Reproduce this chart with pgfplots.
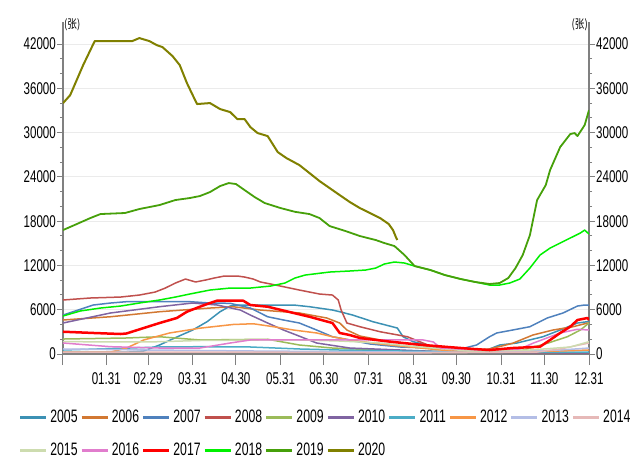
\documentclass[border=0pt]{standalone}
\usepackage{fontspec}
\setmainfont{Liberation Sans}[FakeStretch=0.68]
\newfontfamily\cjk{Noto Sans CJK SC}[FakeStretch=0.8]
\usepackage{pgfplots}
\pgfplotsset{compat=1.18}

\definecolor{axgray}{RGB}{128,128,128}
\definecolor{gridgray}{RGB}{235,235,235}
\definecolor{c2005}{RGB}{60,145,180}
\definecolor{c2006}{RGB}{210,120,50}
\definecolor{c2007}{RGB}{79,129,189}
\definecolor{c2008}{RGB}{192,80,77}
\definecolor{c2009}{RGB}{155,187,89}
\definecolor{c2010}{RGB}{128,100,162}
\definecolor{c2011}{RGB}{75,172,198}
\definecolor{c2012}{RGB}{247,150,70}
\definecolor{c2013}{RGB}{180,190,230}
\definecolor{c2014}{RGB}{230,185,184}
\definecolor{c2015}{RGB}{205,220,175}
\definecolor{c2016}{RGB}{225,125,205}
\definecolor{c2017}{RGB}{255,0,0}
\definecolor{c2018}{RGB}{0,240,0}
\definecolor{c2019}{RGB}{70,160,10}
\definecolor{c2020}{RGB}{128,128,0}

\pgfplotsset{
  frame/.style={
    scale only axis, width=526pt, height=332pt,
    xmin=1, xmax=366, ymin=0, ymax=45000,
    tick align=outside,
    tick style={draw=axgray, line width=1pt},
    axis line style={draw=axgray, line width=1.5pt},
    tick label style={font=\fontsize{17}{17}\selectfont, text=black, inner sep=1pt},
    scaled y ticks=false,
    /pgf/number format/1000 sep={},
    /pgf/number format/assume math mode=true,
  },
  yframe/.style={
    frame, axis x line=none,
    ytick={0,6000,...,42000}, minor y tick num=2,
    major tick length=6pt, minor tick length=3pt,
  }
}

\begin{document}
\begin{tikzpicture}
\path[use as bounding box] (-63pt,-105pt) rectangle (570pt,354pt);

% left scale with grid
\begin{axis}[yframe, axis y line*=left, ymajorgrids,
  grid style={draw=gridgray, line width=1pt}]
\end{axis}

% right scale
\begin{axis}[yframe, axis y line*=right]
\end{axis}

% data and date axis
\begin{axis}[frame, name=main,
  axis y line=none, axis x line*=bottom,
  xtick={1,31,60,91,121,152,182,213,244,274,305,335,366},
  xticklabels={,01.31,02.29,03.31,04.30,05.31,06.30,07.31,08.31,09.30,10.31,11.30,12.31},
  minor x tick num=2,
  major tick length=11pt, minor tick length=5pt,
  xticklabel style={yshift=-6pt},
  every axis plot/.append style={line width=1.5pt, line join=round, mark=none},
  legend columns=10,
  legend style={at={(-0.09,-0.16)}, anchor=north west, draw=none, fill=none,
    font=\fontsize{18}{18}\selectfont,
    nodes={inner sep=1pt},
    row sep=17pt,
    /tikz/every odd column/.append style={column sep=2pt},
    /tikz/every even column/.append style={column sep=1.8pt}},
  legend image code/.code={\draw[#1, line width=2.5pt] (0pt,0pt) -- (26pt,0pt);},
]
\addplot[c2005] coordinates {(1,270)(47,270)(57,400)(68,1220)(80,2300)(91,3250)(101,4380)(110,5730)(117,6500)(121,6640)(138,6640)(161,6640)(172,6410)(188,5960)(193,5730)(202,5280)(216,4380)(233,3520)(237,2340)(244,1670)(256,1080)(277,540)(290,270)(297,680)(304,1220)(316,1490)(334,2340)(346,3250)(358,4200)(365,4380)(366,4380)};
\addlegendentry{2005}
\addplot[c2006] coordinates {(1,4610)(34,5050)(68,5730)(103,6230)(119,6410)(138,5960)(165,5560)(184,4880)(193,4200)(198,3250)(207,2440)(221,1900)(242,1360)(263,810)(283,540)(297,680)(313,1450)(327,2570)(341,3250)(355,3700)(365,4200)(366,4200)};
\addlegendentry{2006}
\addplot[c2007] coordinates {(1,5280)(22,6640)(34,6910)(45,7090)(68,7090)(89,7090)(103,6910)(117,6870)(131,6230)(143,5050)(154,4610)(165,4200)(177,3250)(188,2340)(200,1900)(214,1360)(235,950)(256,810)(277,680)(288,1220)(297,2340)(302,2850)(313,3250)(325,3700)(337,4880)(348,5560)(358,6500)(363,6640)(366,6640)};
\addlegendentry{2007}
\addplot[c2008] coordinates {(1,7320)(20,7590)(41,7720)(54,7990)(65,8400)(72,8940)(79,9620)(86,10160)(93,9760)(100,10030)(106,10300)(113,10570)(122,10570)(127,10430)(133,10160)(138,9760)(145,9490)(155,9080)(165,8670)(172,8400)(179,8130)(188,7990)(192,7320)(194,5960)(198,4200)(207,3700)(221,3020)(240,2340)(249,1630)(256,1080)(270,540)(290,270)(366,140)};
\addlegendentry{2008}
\addplot[c2009] coordinates {(1,2030)(45,2170)(68,2340)(96,1900)(143,2000)(165,1220)(188,810)(221,540)(270,270)(318,410)(337,1450)(351,2340)(360,3250)(366,4200)};
\addlegendentry{2009}
\addplot[c2010] coordinates {(1,4200)(34,5560)(68,6410)(91,6910)(108,6640)(124,5960)(131,5280)(143,4200)(154,3250)(163,2570)(177,1490)(200,810)(235,540)(270,270)(366,140)};
\addlegendentry{2010}
\addplot[c2011] coordinates {(1,540)(47,810)(68,950)(96,990)(131,950)(165,680)(193,540)(235,410)(290,270)(366,270)};
\addlegendentry{2011}
\addplot[c2012] coordinates {(1,270)(34,270)(45,800)(57,1900)(75,2850)(96,3500)(119,4000)(133,4100)(147,3700)(161,3250)(177,2850)(188,2340)(200,1900)(221,1360)(249,810)(270,410)(304,270)(346,410)(366,540)};
\addlegendentry{2012}
\addplot[c2013] coordinates {(1,680)(61,540)(131,410)(235,270)(304,270)(346,540)(366,810)};
\addlegendentry{2013}
\addplot[c2014] coordinates {(1,270)(131,270)(235,140)(330,270)(346,680)(366,1490)};
\addlegendentry{2014}
\addplot[c2015] coordinates {(1,1670)(61,1630)(96,1830)(138,1900)(165,1900)(193,1760)(221,1490)(249,950)(283,410)(325,540)(353,950)(366,1670)};
\addlegendentry{2015}
\addplot[c2016] coordinates {(1,1490)(34,990)(68,810)(96,810)(117,1490)(131,1900)(165,1900)(200,1900)(251,1900)(258,1630)(263,810)(290,540)(318,680)(327,1450)(346,2850)(358,3350)(366,3250)};
\addlegendentry{2016}
\addplot[c2017, line width=2.5pt] coordinates {(1,3020)(22,2850)(41,2710)(45,2780)(57,3520)(68,4200)(80,4880)(87,5730)(96,6410)(103,6910)(108,7230)(126,7230)(131,6640)(143,6410)(161,5560)(172,5050)(188,4200)(193,2850)(200,2570)(207,2170)(228,1670)(251,1220)(268,950)(286,680)(297,540)(313,810)(332,990)(339,1900)(346,2850)(353,3700)(358,4610)(365,4880)(366,4610)};
\addlegendentry{2017}
\addplot[c2018] coordinates {(1,5150)(13,5830)(27,6230)(41,6500)(54,6910)(68,7320)(79,7720)(89,8130)(103,8670)(117,8940)(131,8940)(145,9210)(155,9620)(162,10300)(169,10700)(186,11110)(200,11250)(211,11380)(218,11650)(224,12200)(231,12470)(238,12330)(245,11920)(256,11380)(266,10700)(277,10160)(287,9760)(297,9350)(304,9350)(311,9620)(318,10160)(325,11650)(332,13410)(339,14360)(346,15040)(353,15720)(360,16400)(363,16800)(366,16250)};
\addlegendentry{2018}
\addplot[c2019, line width=1.8pt] coordinates {(1,16800)(9,17480)(20,18430)(27,18970)(44,19110)(54,19650)(68,20190)(79,20870)(89,21140)(96,21410)(103,21950)(110,22760)(116,23170)(121,23040)(127,22220)(134,21270)(141,20460)(152,19780)(162,19270)(172,18970)(179,18430)(186,17340)(197,16670)(207,15990)(218,15450)(224,15040)(231,14630)(238,13410)(245,11920)(256,11380)(266,10700)(277,10160)(287,9760)(297,9490)(304,9620)(310,10300)(315,11650)(320,13410)(325,16120)(330,20870)(336,22900)(339,24930)(346,28050)(353,29810)(356,29950)(358,29540)(363,31030)(366,33060)};
\addlegendentry{2019}
\addplot[c2020, line width=2pt] coordinates {(1,34000)(6,35090)(15,39160)(23,42410)(49,42410)(54,42820)(61,42410)(66,41870)(70,41600)(77,40380)(82,39160)(87,36720)(91,35090)(94,33880)(103,34010)(110,33200)(117,32790)(122,31840)(127,31840)(131,30760)(136,29950)(143,29540)(150,27370)(156,26560)(165,25610)(172,24530)(179,23440)(186,22490)(193,21540)(200,20600)(207,19780)(214,19110)(221,18430)(227,17620)(230,16800)(232,15850)(233,15450)};
\addlegendentry{2020}
\end{axis}

\node[anchor=north west, inner sep=0pt, font=\cjk\fontsize{12}{12}\selectfont]
  at ([xshift=1pt,yshift=4pt]main.north west) {(张)};
\node[anchor=north east, inner sep=0pt, font=\cjk\fontsize{12}{12}\selectfont]
  at ([xshift=-1pt,yshift=4pt]main.north east) {(张)};
\end{tikzpicture}
\end{document}
